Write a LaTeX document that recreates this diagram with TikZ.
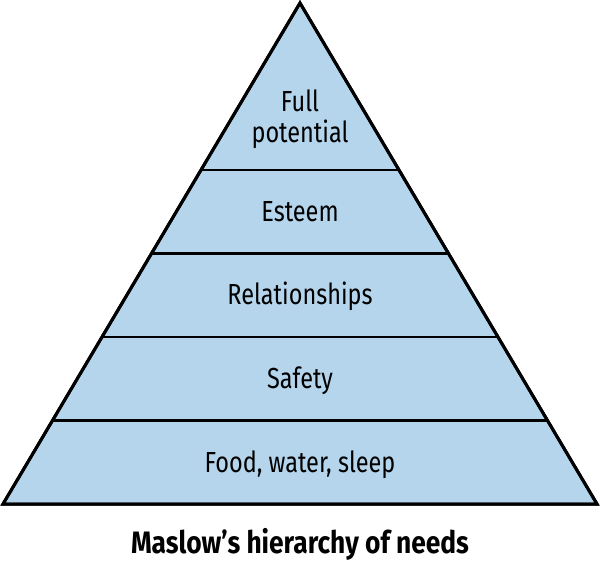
\documentclass[tikz,border=0pt]{standalone}
\usepackage{fontspec}
\setmainfont{Fira Sans}[FakeStretch=0.81]
\newfontfamily\captionfont{Fira Sans}[FakeStretch=0.85]
\usetikzlibrary{calc}
\definecolor{pyramidblue}{HTML}{B4D5EC}
\tikzset{
  level/.style={font=\fontsize{29}{31}\selectfont, anchor=base, inner sep=0pt, text=black},
  band/.style={line width=2.6pt},
}
\begin{document}
\begin{tikzpicture}[x=1pt,y=-1pt]
\useasboundingbox (0,0) rectangle (600,565);

% Outline
\coordinate (apex) at (300,3);
\coordinate (left) at (3,504);
\coordinate (right) at (597,504);
\filldraw[fill=pyramidblue, line width=3pt, line join=miter] (apex) -- (right) -- (left) -- cycle;

% Bands
\foreach \t in {2,3,4,5}
{
	\draw[band] ($(apex)!\t/6!(left)$) -- ($(apex)!\t/6!(right)$);
}

% Redraw outline
\draw[line width=3pt, line join=miter] (apex) -- (right) -- (left) -- cycle;

% Labels (placed at their baselines)
\node[level] (full) at (300,111) {Full};
\node[level] (potential) at (300,142) {potential};
\node[level] (esteem) at (300,221) {Esteem};
\node[level] (relations) at (300,304.5) {Relationships};
\node[level] (safety) at (300,388) {Safety};
\node[level] (food) at (300,472) {Food, water, sleep};

% Caption
\node[font=\captionfont\bfseries\fontsize{31}{35}\selectfont, anchor=base, inner sep=0pt] (caption) at (300,553) {Maslow’s hierarchy of needs};
\end{tikzpicture}
\end{document}
